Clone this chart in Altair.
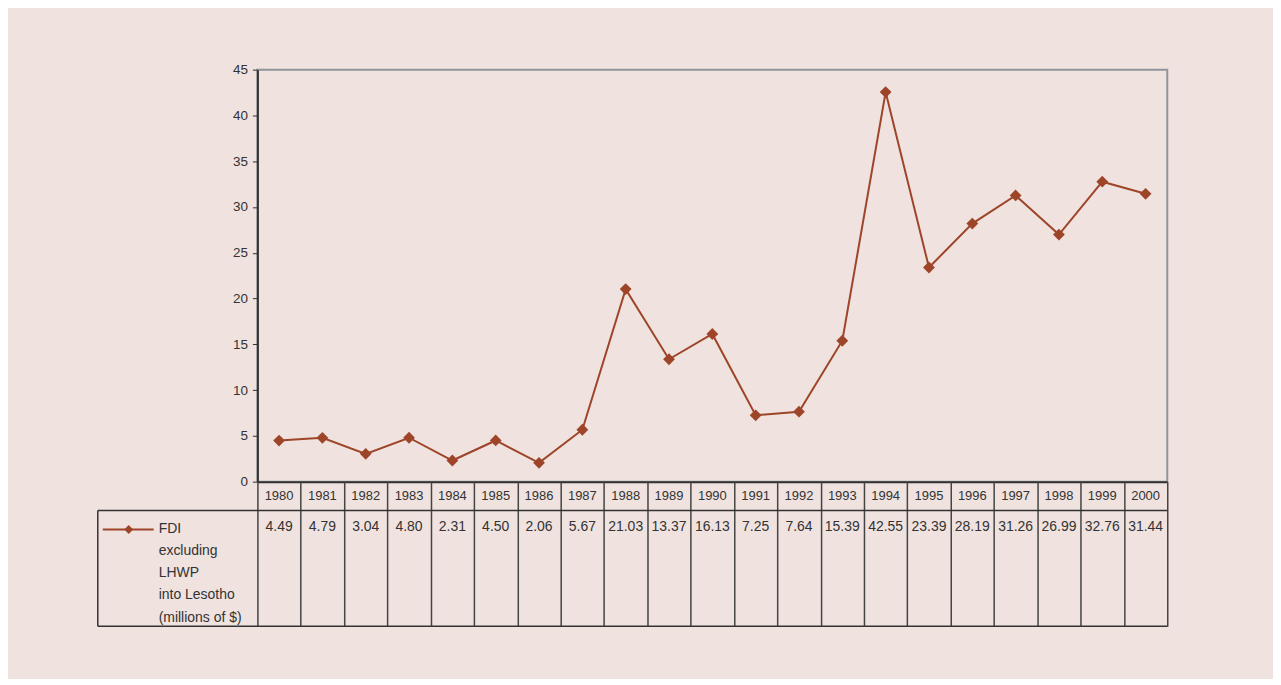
import altair as alt
import pandas as pd

years = [str(y) for y in range(1980, 2001)]
fdi = [4.49, 4.79, 3.04, 4.80, 2.31, 4.50, 2.06, 5.67, 21.03, 13.37, 16.13,
       7.25, 7.64, 15.39, 42.55, 23.39, 28.19, 31.26, 26.99, 32.76, 31.44]
y_ticks = [0, 5, 10, 15, 20, 25, 30, 35, 40, 45]
legend_lines = ["FDI", "excluding", "LHWP", "into Lesotho", "(millions of $)"]

df = pd.DataFrame({"year": years, "fdi": fdi, "label": [f"{v:.2f}" for v in fdi]})
one = pd.DataFrame({"k": [0]})

LINE = "#9e4529"
INK = "#333333"
BG = "#efe2df"
FONT = "Liberation Sans"

W, H, TH = 912, 413, 145


def xscale():
    return alt.Scale(type="band", domain=years, paddingInner=0, paddingOuter=0)


x_top = alt.X("year:N", sort=years, scale=xscale(),
              axis=alt.Axis(labels=False, ticks=False, title=None, grid=False,
                            domainColor=INK, domainWidth=2))
y_top = alt.Y("fdi:Q", scale=alt.Scale(domain=[0, 45], nice=False),
              axis=alt.Axis(values=y_ticks, title=None, grid=False, tickSize=5,
                            labelPadding=5, tickColor=INK, tickWidth=1,
                            domainColor=INK, domainWidth=2, labelColor=INK,
                            labelFontSize=13.5, labelFont=FONT))

line = alt.Chart(df).mark_line(color=LINE, strokeWidth=2).encode(x=x_top, y=y_top)
pts = alt.Chart(df).mark_point(shape="diamond", filled=True, size=140, color=LINE,
                               opacity=1).encode(x=x_top, y=y_top)
top = alt.layer(line, pts).properties(
    width=W, height=H,
    view=alt.ViewBackground(stroke="#8f979b", strokeWidth=2))

x_tab = alt.X("year:N", sort=years, scale=xscale(),
              axis=alt.Axis(orient="top", grid=True, tickBand="extent", labels=False,
                            ticks=False, domain=False, title=None,
                            gridColor="#444444", gridWidth=1.5, gridOpacity=1))

yr_txt = alt.Chart(df).mark_text(fontSize=13, color=INK, font=FONT).encode(
    x=x_tab, y=alt.value(14), text="year:N")
val_txt = alt.Chart(df).mark_text(fontSize=14, color=INK, font=FONT).encode(
    x=x_tab, y=alt.value(45.5), text="label:N")

frame_kw = dict(color=INK, strokeWidth=1.5)
r1 = alt.Chart(one).mark_rule(**frame_kw).encode(
    x=alt.value(-160), x2=alt.value(W), y=alt.value(29))
r2 = alt.Chart(one).mark_rule(**frame_kw).encode(
    x=alt.value(-160), x2=alt.value(W), y=alt.value(TH))
r3 = alt.Chart(one).mark_rule(**frame_kw).encode(
    x=alt.value(-160), y=alt.value(29), y2=alt.value(TH))

leg_line = alt.Chart(one).mark_rule(color=LINE, strokeWidth=2).encode(
    x=alt.value(-155), x2=alt.value(-104), y=alt.value(48))
leg_pt = alt.Chart(one).mark_point(shape="diamond", filled=True, size=80, color=LINE,
                                   opacity=1).encode(x=alt.value(-129), y=alt.value(48))
leg_txt = alt.Chart(one).mark_text(align="left", baseline="middle", fontSize=14,
                                   color=INK, font=FONT, lineHeight=22.2).encode(
    x=alt.value(-99), y=alt.value(47.5), text=alt.value(legend_lines))

table = alt.layer(yr_txt, val_txt, r1, r2, r3, leg_line, leg_pt, leg_txt).properties(
    width=W, height=TH)

chart = alt.vconcat(top, table, spacing=0, bounds="flush").resolve_scale(
    x="independent", y="independent"
).properties(
    background=BG,
    padding={"left": 88, "top": 53, "right": 104, "bottom": 50},
).configure_view(stroke="transparent")

chart.save("out.html", embed_options={"renderer": "svg", "actions": False})
